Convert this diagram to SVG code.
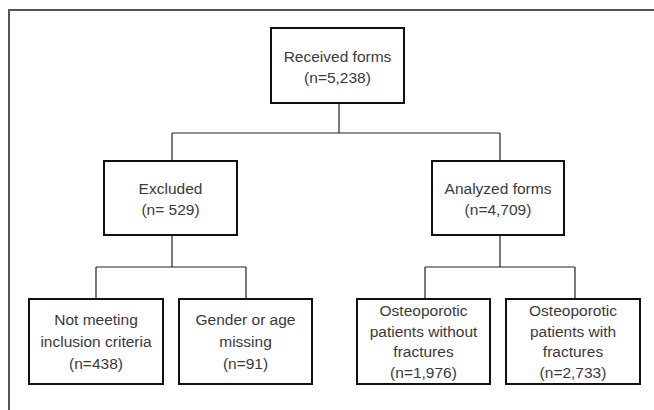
<svg xmlns="http://www.w3.org/2000/svg" width="654" height="410" viewBox="0 0 654 410">
<style>
.box{fill:#fff;stroke:#111;stroke-width:2}
.conn{fill:none;stroke:#222;stroke-width:1.2}
text{font-family:"Liberation Sans",Arial,sans-serif;font-size:15.5px;fill:#3a3a3a;text-anchor:middle}
</style>
<rect width="654" height="410" fill="#fff"/>
<path d="M9 412 V10 H656" fill="none" stroke="#555" stroke-width="2"/>
<g id="connectors">
<path class="conn" d="M339 103 V133 M172 133 H500 M172 133 V161 M500 133 V161"/>
<path class="conn" d="M172 235 V267 M96 267 H246 M96 267 V299 M246 267 V299"/>
<path class="conn" d="M500 235 V267 M425 267 H575 M425 267 V299 M575 267 V299"/>
</g>
<g id="received">
<rect class="box" x="271" y="28" width="133" height="75"/>
<text x="337.5" y="62">Received forms</text>
<text x="337.5" y="83">(n=5,238)</text>
</g>
<g id="excluded">
<rect class="box" x="104" y="161" width="133" height="74"/>
<text x="170.5" y="194">Excluded</text>
<text x="170.5" y="215">(n= 529)</text>
</g>
<g id="analyzed">
<rect class="box" x="432" y="161" width="132" height="74"/>
<text x="498" y="194">Analyzed forms</text>
<text x="498" y="215">(n=4,709)</text>
</g>
<g id="not-meeting">
<rect class="box" x="29" y="299" width="134" height="85"/>
<text x="96" y="325">Not meeting</text>
<text x="96" y="347">inclusion criteria</text>
<text x="96" y="369">(n=438)</text>
</g>
<g id="gender">
<rect class="box" x="179" y="299" width="133" height="85"/>
<text x="245.5" y="325">Gender or age</text>
<text x="245.5" y="347">missing</text>
<text x="245.5" y="369">(n=91)</text>
</g>
<g id="osteo-without">
<rect class="box" x="357" y="299" width="133" height="85"/>
<text x="423.5" y="316">Osteoporotic</text>
<text x="423.5" y="337">patients without</text>
<text x="423.5" y="357">fractures</text>
<text x="423.5" y="378">(n=1,976)</text>
</g>
<g id="osteo-with">
<rect class="box" x="506" y="299" width="134" height="85"/>
<text x="573" y="316">Osteoporotic</text>
<text x="573" y="337">patients with</text>
<text x="573" y="357">fractures</text>
<text x="573" y="378">(n=2,733)</text>
</g>
</svg>
